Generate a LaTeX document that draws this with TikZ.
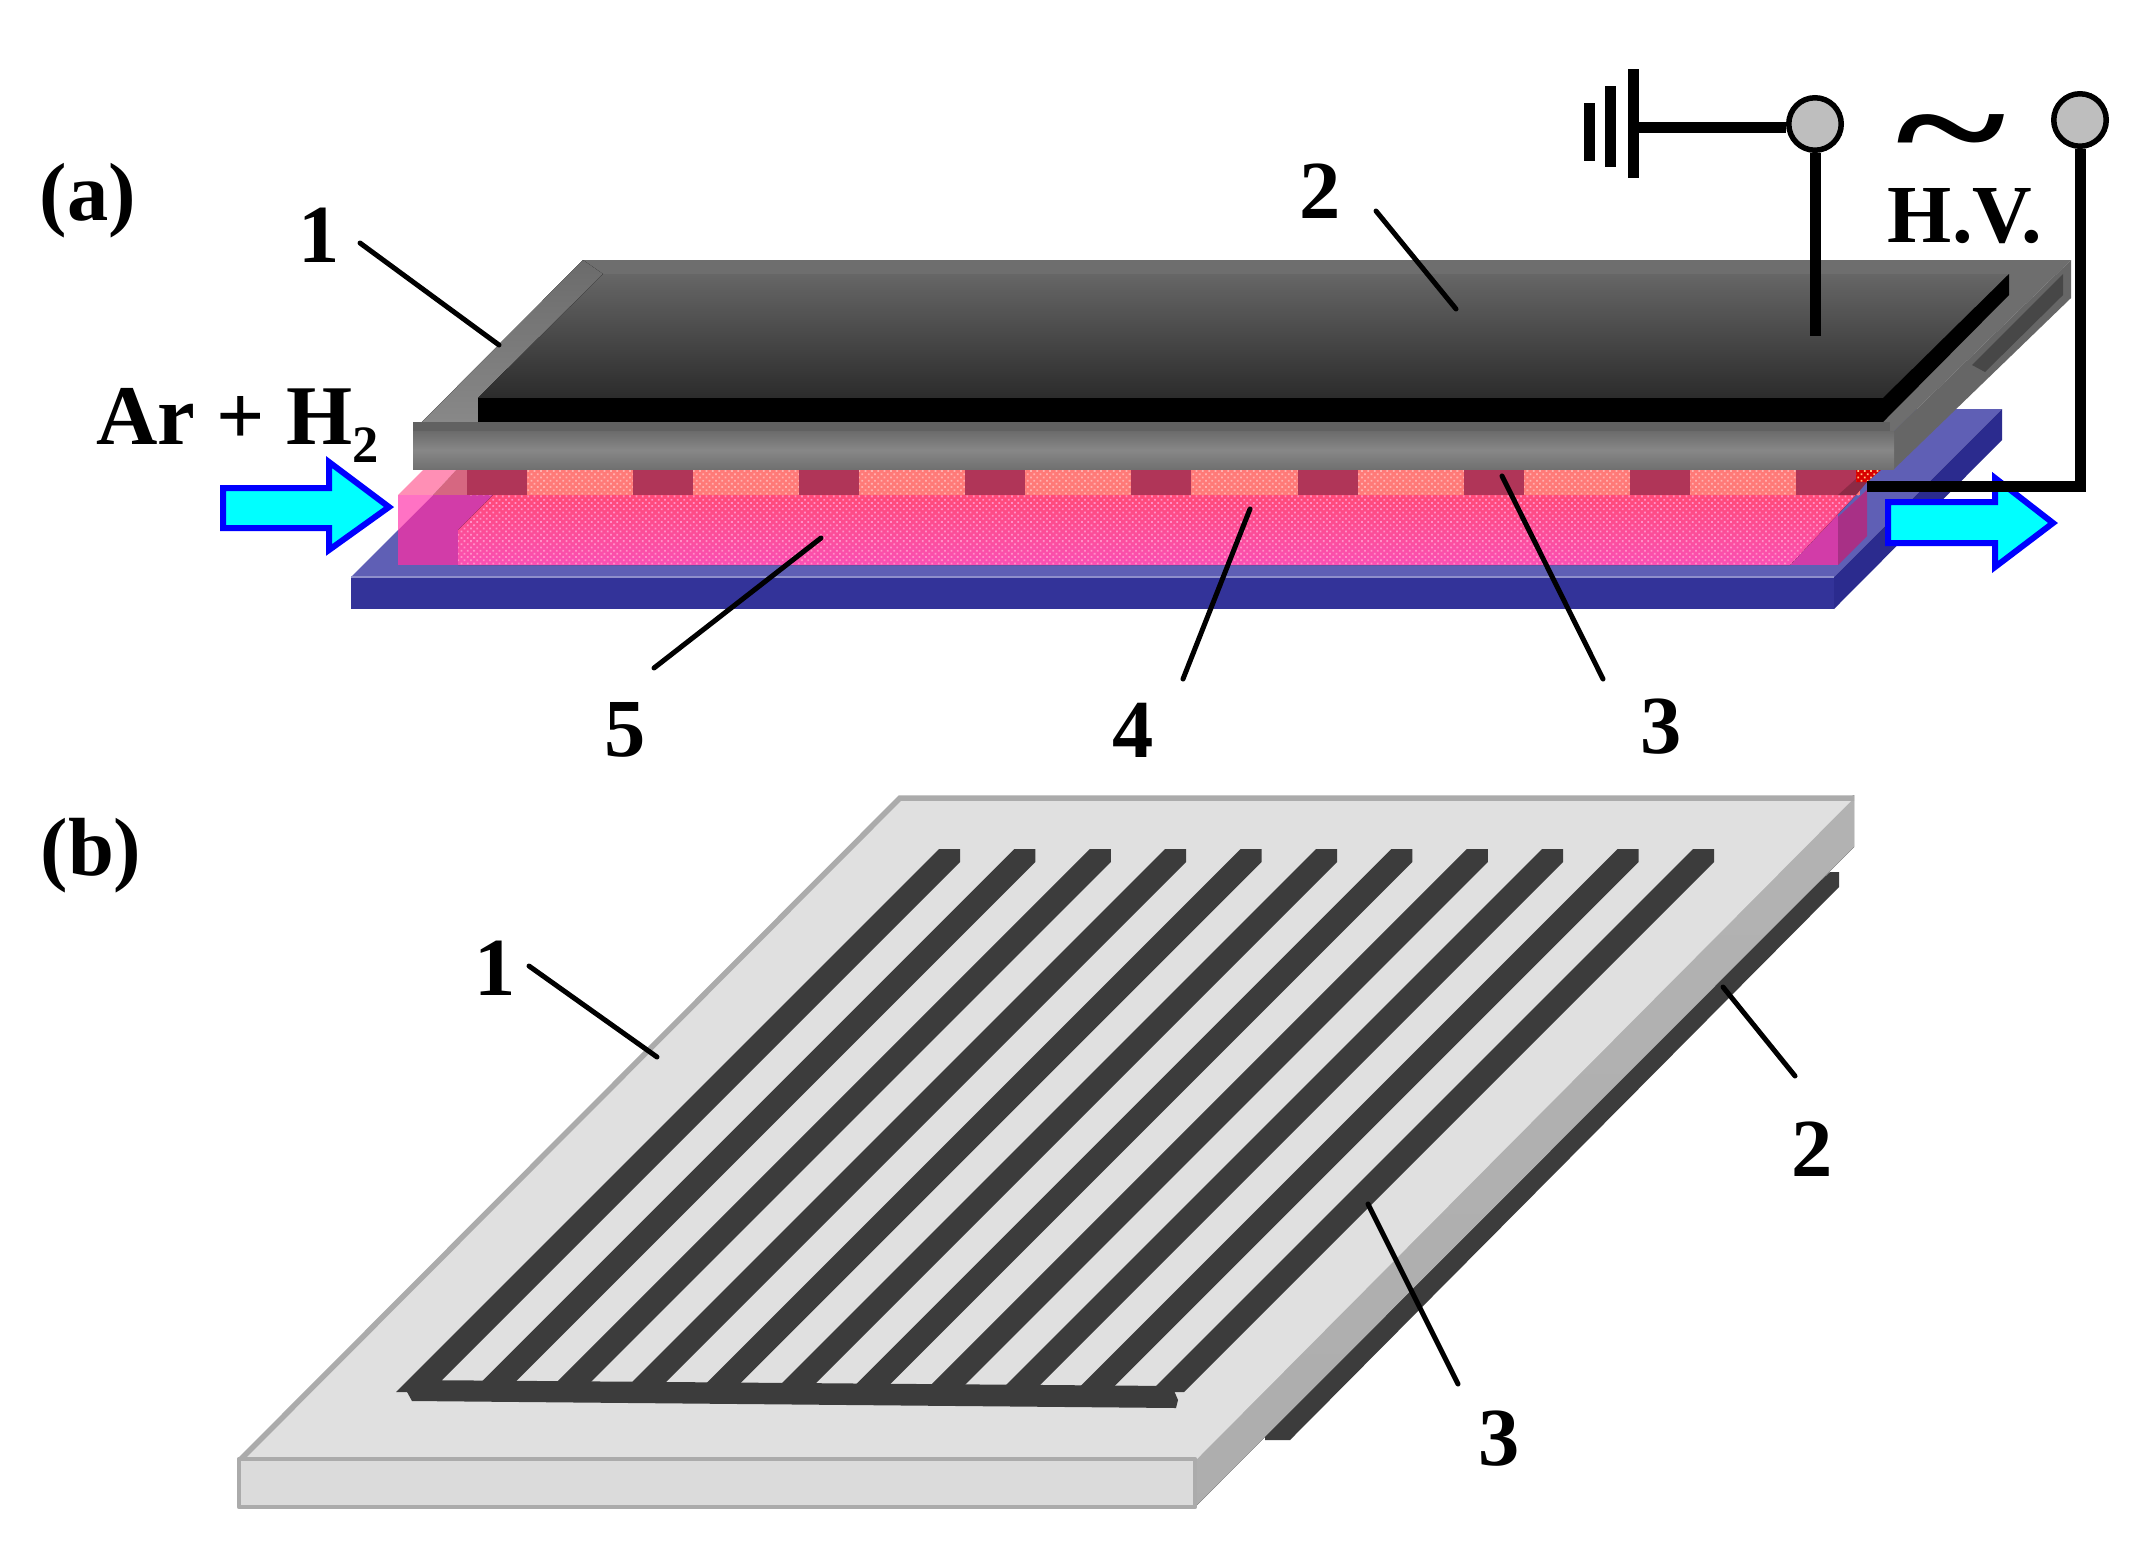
\documentclass[tikz,border=0pt]{standalone}
\usepackage{fontspec}
\setmainfont{Liberation Serif}
\usetikzlibrary{patterns.meta}
\definecolor{bluetop}{HTML}{5F5FB5}
\definecolor{bluefront}{HTML}{333399}
\definecolor{blueside}{HTML}{2B2B8E}
\definecolor{elecred}{HTML}{B03558}
\definecolor{pinklight}{HTML}{FF8FB5}
\definecolor{magenta1}{HTML}{D23CA8}
\definecolor{salmon}{HTML}{FF7A78}
\definecolor{hotA}{HTML}{FF4A78}
\definecolor{hotB}{HTML}{FA50B4}
\definecolor{dotpink}{HTML}{FF90C8}
\definecolor{dotsalmon}{HTML}{FFB0B0}
\definecolor{cyanfill}{HTML}{00FFFF}
\definecolor{arrowblue}{HTML}{0000FF}
\definecolor{termgray}{HTML}{BEBEBE}
\definecolor{combdark}{HTML}{3C3C3C}
\tikzset{
  lbl/.style={inner sep=0pt,font=\bfseries\fontsize{33}{36}\selectfont},
  lead/.style={draw=black,line width=2pt,line cap=round},
  wirestyle/.style={draw=black,line width=4.4pt},
  terminal/.style={circle,draw=black,line width=2.2pt,fill=termgray,minimum size=21pt,inner sep=0pt},
  flowarrow/.style={draw=arrowblue,fill=cyanfill,line width=2.4pt,line join=miter},
  dotsB/.style={pattern={Dots[distance=1.8pt,radius=0.5pt,angle=45]},pattern color=#1},
  combfill/.style={fill=combdark},
  plateedge/.style={draw=black!33,line width=1.7pt,line join=round}
}
\begin{document}
\begin{tikzpicture}[x=0.4pt,y=-0.4pt]
\useasboundingbox (0,0) rectangle (2145,1553);
\fill[white] (0,0) rectangle (2145,1553);
% ---------- panel a: substrate
\fill[bluetop] (351,577) -- (519,409) -- (2002,409) -- (1834,577) -- cycle;
\fill[blueside] (1834,577) -- (2002,409) -- (2002,440) -- (1834,609) -- cycle;
\fill[bluefront] (351,577) rectangle (1834,609);
\draw[bluetop!70!white,line width=0.8pt] (351,577) -- (1834,577);
% plasma
\fill[pinklight] (398,495) -- (424,469) -- (457,469) -- (433,495) -- cycle;
\fill[black!10!pink!60!purple] (433,495) -- (457,469) -- (467,469) -- (467,495) -- cycle;
\fill[magenta1] (398,495) rectangle (500,565);
\fill[magenta1] (1780,495) rectangle (1838,565);
\fill[pinklight!80!magenta] (398,495) -- (398,530) -- (433,495) -- cycle;
\fill[salmon] (467,469) rectangle (1860,495);
\fill[top color=hotA,bottom color=hotB]
  (458,565) -- (458,530) -- (493,495) -- (1856,495) -- (1790,565) -- cycle;
\fill[dotsB=dotpink] (458,565) -- (458,530) -- (493,495) -- (1856,495) -- (1790,565) -- cycle;
\fill[dotsB=dotsalmon] (467,469) rectangle (1860,495);
\foreach \i in {0,...,8}{
  \fill[elecred] ({467+166.1*\i},469) rectangle ({527+166.1*\i},495);
}
\fill[magenta1!80!black] (1838,565) -- (1867,536) -- (1867,490) -- (1838,517) -- cycle;
\fill[elecred!80!black] (1838,495) -- (1856,495) -- (1867,482) -- (1867,469) -- cycle;
\fill[red!85!black] (1856,469) -- (1882,469) -- (1867,482) -- (1856,482) -- cycle;
\fill[dotsB=orange!50!white] (1856,469) -- (1882,469) -- (1867,482) -- (1856,482) -- cycle;
% ---------- flow arrows
\draw[flowarrow] (223,488) -- (329,488) -- (329,462) -- (389,507) -- (329,550) -- (329,528) -- (223,528) -- cycle;
\draw[flowarrow] (1888,502) -- (1995,502) -- (1995,478) -- (2053,523) -- (1995,567) -- (1995,543) -- (1888,543) -- cycle;
% ---------- top plate
\fill[black!57] (413,431) -- (583,260) -- (2071,260) -- (1894,431) -- cycle;
\fill[top color=black!58,bottom color=black!46] (413,431) -- (583,260) -- (603,274) -- (478,398) -- (478,431) -- cycle;
\fill[black!62] (413,422) rectangle (1890,431);
\fill[black!60] (1894,431) -- (2071,260) -- (2071,298) -- (1894,469) -- cycle;
\fill[black!72] (2063,274) -- (2063,295) -- (1985,372) -- (1972,365) -- cycle;
\fill[top color=black!58,bottom color=black!56,middle color=black!47] (413,431) rectangle (1894,469);
% top electrode
\fill[top color=black!60,middle color=black!80,bottom color=black!83] (478,398) -- (603,274) -- (2009,274) -- (1883,398) -- cycle;
\fill[black] (478,398) rectangle (1883,422);
\fill[black] (1883,398) -- (2009,274) -- (2009,295) -- (1883,422) -- cycle;
% ---------- wiring
\node[terminal] (tg) at (1815,124) {};
\node[terminal] (th) at (2080,120) {};
\coordinate (gbar) at (1634,127);
\coordinate (wireA) at (1815,336);
\coordinate (wireB) at (2080,486);
\coordinate (wireC) at (1867,486);
\fill[black] (1628,69) rectangle (1639,178);
\fill[black] (1605,86) rectangle (1616,167);
\fill[black] (1584,103) rectangle (1595,161);
\draw[wirestyle] (gbar) -- (gbar -| tg.west);
\draw[wirestyle] (tg) -- (wireA);
\draw[wirestyle,line join=miter] (th) -- (wireB) -- (wireC);
% ---------- labels a
\node[lbl,anchor=center] (pa) at (88,201) {(a)};
\node[lbl] (a1) at (319,235) {1};
\node[lbl] (a2) at (1320,191) {2};
\node[lbl] (a3) at (1661,727) {3};
\node[lbl] (a4) at (1133,730) {4};
\node[lbl] (a5) at (625,730) {5};
\node[inner sep=0pt,anchor=base west,font=\bfseries\fontsize{34}{36}\selectfont] (gas) at (96,444) {Ar + H\raisebox{-0.22em}{\fontsize{21}{22}\selectfont 2}};
\node[inner sep=0pt,anchor=base,font=\bfseries\fontsize{33}{36}\selectfont] (hv) at (1965,242) {H.V.};
\node[inner sep=0pt,anchor=base,font=\bfseries\fontsize{84}{86}\selectfont] (tilde) at (1951,178) {\scalebox{1}[0.72]{\char`\~}};
\coordinate (la1) at (360,243); \coordinate (pa1) at (499,345);
\coordinate (la2) at (1376,211); \coordinate (pa2) at (1456,309);
\coordinate (la3) at (1603,679); \coordinate (pa3) at (1502,476);
\coordinate (la4) at (1183,679); \coordinate (pa4) at (1250,509);
\coordinate (la5) at (654,668); \coordinate (pa5) at (821,538);
\draw[lead] (la1) -- (pa1);
\draw[lead] (la2) -- (pa2);
\draw[lead] (la3) -- (pa3);
\draw[lead] (la4) -- (pa4);
\draw[lead] (la5) -- (pa5);
% ---------- panel b
\fill[combfill] (1830,872) -- (1839,872) -- (1839,887) -- (1290,1440) -- (1265,1440) -- (1265,1400) -- cycle;
\fill[top color=black!30,bottom color=black!32] (1195,1457) -- (1843,802) -- (1854,795) -- (1854,847) -- (1195,1507) -- cycle;
\fill[black!12] (239,1461) -- (900,798) -- (1854,798) -- (1195,1461) -- cycle;
\draw[draw=black!33,line width=2.2pt] (239,1461) -- (900,798) -- (1854,798);
\fill[black!14] (239,1461) rectangle (1195,1507);
\draw[plateedge] (239,1459) rectangle (1195,1507);
\foreach \i in {0,...,10}{
  \pgfmathsetmacro{\dx}{75.4*\i}
  \fill[combfill] ({1693-\dx},849) -- ({1714-\dx},849) -- ({1714-\dx},862) -- ({1184-\dx},1392) -- ({1150-\dx},1392) -- cycle;
}
\fill[combfill] (406,1390) -- (413,1380) -- (1172,1386) -- (1178,1400) -- (1176,1408) -- (412,1401) -- cycle;
\node[lbl] (pb) at (91,856) {(b)};
\node[lbl] (b1) at (495,968) {1};
\node[lbl] (b2) at (1812,1149) {2};
\node[lbl] (b3) at (1499,1439) {3};
\coordinate (lb1) at (529,966); \coordinate (pb1) at (657,1057);
\coordinate (lb2) at (1795,1076); \coordinate (pb2) at (1723,987);
\coordinate (lb3) at (1458,1384); \coordinate (pb3) at (1368,1204);
\draw[lead] (lb1) -- (pb1);
\draw[lead] (lb2) -- (pb2);
\draw[lead] (lb3) -- (pb3);
\end{tikzpicture}
\end{document}
